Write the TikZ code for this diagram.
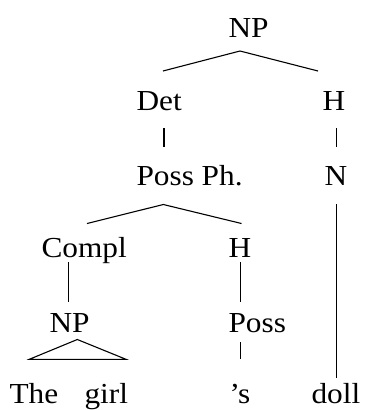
\documentclass[tikz,border=0pt]{standalone}
\usepackage{fontspec}
\setmainfont{Liberation Serif}[FakeStretch=1.08]
\begin{document}
\begin{tikzpicture}[x=1bp,y=-1bp,
  lbl/.style={anchor=base west,inner sep=0pt,outer sep=0pt,font=\fontsize{29bp}{34bp}\selectfont},
  br/.style={line width=1.1bp,line cap=butt}]
\useasboundingbox (0,0) rectangle (365,410);
% labels
\node[lbl] (np1) at (228.5,37) {NP};
\node[lbl] (det) at (136.5,110) {Det};
\node[lbl] (h1) at (322.5,110) {H};
\node[lbl] (pph) at (136.5,185) {Poss Ph.};
\node[lbl] (n) at (324.5,185) {N};
\node[lbl] (compl) at (41.5,257) {Compl};
\node[lbl] (h2) at (228.5,257) {H};
\node[lbl] (np2) at (49.5,332) {NP};
\node[lbl] (poss) at (228.5,332) {Poss};
\node[lbl] (the) at (9.5,403) {The};
\node[lbl] (girl) at (84.5,403) {girl};
\node[lbl] (s) at (229.5,403) {’s};
\node[lbl] (doll) at (311.5,403) {doll};
% branch points
\coordinate (a1) at (240,51);
\coordinate (a1l) at (163,71);
\coordinate (a1r) at (318,71);
\coordinate (d1) at (164,128);
\coordinate (d2) at (164,147);
\coordinate (h1a) at (336.5,128);
\coordinate (h1b) at (336.5,147);
\coordinate (a2) at (163.3,204.5);
\coordinate (a2l) at (87,223.5);
\coordinate (a2r) at (241.5,223.5);
\coordinate (na) at (336.5,204);
\coordinate (nb) at (336.5,378);
\coordinate (c1) at (68.3,262);
\coordinate (c2) at (68.3,302);
\coordinate (h2a) at (240.7,262);
\coordinate (h2b) at (240.7,302);
\coordinate (t1) at (77.3,339.5);
\coordinate (t2) at (29.3,359.3);
\coordinate (t3) at (126,359.3);
\coordinate (p1) at (240.7,342);
\coordinate (p2) at (240.7,359);
% lines
\draw[br] (a1l) -- (a1) -- (a1r);
\draw[br] (d1) -- (d2);
\draw[br] (h1a) -- (h1b);
\draw[br] (a2l) -- (a2) -- (a2r);
\draw[br] (na) -- (nb);
\draw[br] (c1) -- (c2);
\draw[br] (h2a) -- (h2b);
\draw[br,line join=miter] (t1) -- (t2) -- (t3) -- cycle;
\draw[br] (p1) -- (p2);
\end{tikzpicture}
\end{document}
